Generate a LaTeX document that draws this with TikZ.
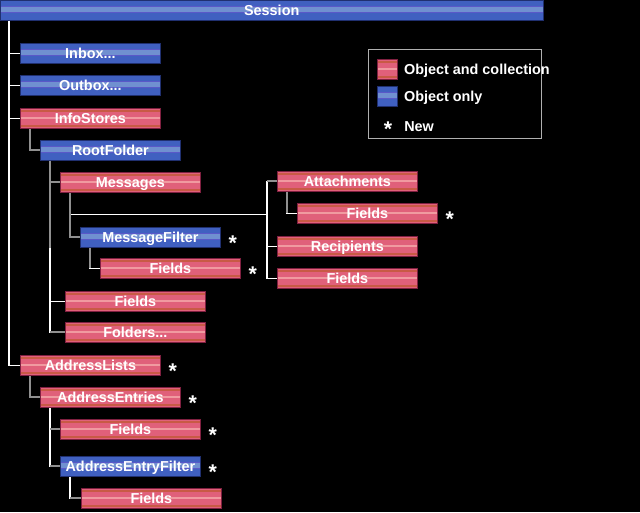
\documentclass[tikz,border=0pt]{standalone}
\usepackage{fontspec}
\setmainfont{Liberation Sans}
\usetikzlibrary{positioning}

\definecolor{collbase}{HTML}{E0607A}
\definecolor{collband}{HTML}{C85A45}
\definecolor{colllight}{HTML}{F09AA0}
\definecolor{collrim}{HTML}{802040}
\definecolor{objbase}{HTML}{4060C0}
\definecolor{objedge}{HTML}{5A58C8}
\definecolor{objlight}{HTML}{7090D0}
\definecolor{objrim}{HTML}{203070}
\definecolor{linkgray}{HTML}{909090}
\definecolor{legendgray}{HTML}{B0B0B0}

\newcommand{\collbands}{%
  \fill[collband] ([yshift=-1.1pt]path picture bounding box.north west) rectangle ([yshift=-2.6pt]path picture bounding box.north east);
  \fill[colllight] ([yshift=-6.8pt]path picture bounding box.north west) rectangle ([yshift=-7.9pt]path picture bounding box.north east);
  \fill[collband] ([yshift=1.1pt]path picture bounding box.south west) rectangle ([yshift=2.6pt]path picture bounding box.south east);}
\newcommand{\objbands}{%
  \fill[objedge] ([yshift=-4.0pt]path picture bounding box.north west) rectangle ([yshift=-9.4pt]path picture bounding box.north east);
  \fill[objlight] ([yshift=-4.9pt]path picture bounding box.north west) rectangle ([yshift=-8.6pt]path picture bounding box.north east);}

\tikzstyle{box} = [minimum width=105pt, minimum height=15pt, inner sep=0pt, anchor=north west, text=white, text height=7.7pt, text depth=0pt, font=\bfseries\fontsize{10.8}{12}\selectfont, line width=0.6pt]
\tikzstyle{coll} = [box, fill=collbase, draw=collrim, path picture={\collbands}]
\tikzstyle{obj} = [box, fill=objbase, draw=objrim, path picture={\objbands}]
\tikzstyle{link} = [draw=white, line width=0.9pt]
\tikzstyle{dimlink} = [draw=linkgray, line width=1.6pt]
\tikzstyle{newmark} = [anchor=north, inner sep=0pt, text=white, font=\bfseries\fontsize{16}{16}\selectfont]
\tikzstyle{legendtext} = [anchor=west, inner sep=0pt, text=white, text height=7.7pt, text depth=0pt, font=\bfseries\fontsize{10.8}{12}\selectfont]

\begin{document}
\begin{tikzpicture}[x=0.75pt, y=-0.75pt]
	\useasboundingbox (0,0) rectangle (640,512);
	\fill[black] (0,0) rectangle (640,512);

	% objects
	\node[obj, minimum width=407pt] (session) at (0,0) {Session};
	\node[obj] (inbox) at (20,43) {Inbox...};
	\node[obj] (outbox) at (20,75) {Outbox...};
	\node[coll] (infostores) at (20,108) {InfoStores};
	\node[obj] (rootfolder) at (40,140) {RootFolder};
	\node[coll] (messages) at (60,172) {Messages};
	\node[obj] (msgfilter) at (80,227) {MessageFilter};
	\node[coll] (mffields) at (100,258) {Fields};
	\node[coll] (rffields) at (65,291) {Fields};
	\node[coll] (folders) at (65,322) {Folders...};
	\node[coll] (attachments) at (277,171) {Attachments};
	\node[coll] (attfields) at (297,203) {Fields};
	\node[coll] (recipients) at (277,236) {Recipients};
	\node[coll] (msgfields) at (277,268) {Fields};
	\node[coll] (addrlists) at (20,355) {AddressLists};
	\node[coll] (addrentries) at (40,387) {AddressEntries};
	\node[coll] (aefields) at (60,419) {Fields};
	\node[obj] (aefilter) at (60,456) {AddressEntryFilter};
	\node[coll] (aeffields) at (81,488) {Fields};

	% new ones
	\node[newmark] (mfnew) at ([xshift=9pt, yshift=1.5pt]msgfilter.east) {*};
	\node[newmark] (mffnew) at ([xshift=9pt, yshift=1.5pt]mffields.east) {*};
	\node[newmark] (attfnew) at ([xshift=9pt, yshift=1.5pt]attfields.east) {*};
	\node[newmark] (alnew) at ([xshift=9pt, yshift=1.5pt]addrlists.east) {*};
	\node[newmark] (aenew) at ([xshift=9pt, yshift=1.5pt]addrentries.east) {*};
	\node[newmark] (aefnew) at ([xshift=9pt, yshift=1.5pt]aefields.east) {*};
	\node[newmark] (aeflnew) at ([xshift=9pt, yshift=1.5pt]aefilter.east) {*};

	% legend
	\node[draw=legendgray, line width=1pt, minimum width=129.75pt, minimum height=66.75pt, inner sep=0pt, anchor=north west] (legend) at (368,49) {};
	\node[coll, minimum width=15pt] (collkey) at (377,59) {};
	\node[obj, minimum width=15pt] (objkey) at (377,86) {};
	\node[legendtext, right=4.5pt of collkey] (colltext) {Object and collection};
	\node[legendtext, right=4.5pt of objkey] (objtext) {Object only};
	\node[newmark] (newkey) at (388,122) {*};
	\node[legendtext] (newtext) at (404,126) {New};

	% tree lines
	\coordinate (strunk) at ([xshift=6.75pt]session.south west);
	\draw[link] (strunk) |- (inbox.west);
	\draw[link] (strunk) |- (outbox.west);
	\draw[link] (strunk) |- (infostores.west);
	\draw[link] (strunk) |- (addrlists.west);

	\draw[dimlink] ([xshift=7.5pt]infostores.south west) |- (rootfolder.west);

	\coordinate (rfstem) at ([xshift=7.5pt]rootfolder.south west);
	\draw[link] (rfstem) |- (folders.west);
	\draw[link] (rfstem) |- (rffields.west);
	\draw[dimlink] (rfstem) |- (messages.west);
	\draw[dimlink] (rfstem) -- (rfstem |- msgfilter.south);
	\draw[dimlink] (rfstem |- folders.west) -- (folders.west);

	\coordinate (msgstem) at ([xshift=7.5pt]messages.south west);
	\coordinate (mbus) at ([xshift=-7.5pt]attachments.west);
	\draw[link] ([yshift=-16.5pt]msgstem) -| (mbus);
	\draw[link] (mbus) |- (recipients.west);
	\draw[link] (mbus) |- (msgfields.west);
	\draw[dimlink] (mbus) -- (attachments.west);
	\draw[dimlink] (msgstem) |- (msgfilter.west);

	\coordinate (attstem) at ([xshift=7.5pt]attachments.south west);
	\draw[link] (attstem) |- (attfields.west);
	\draw[dimlink] (attstem) -- (attstem |- attfields.west);

	\coordinate (mfstem) at ([xshift=7.5pt]msgfilter.south west);
	\draw[link] (mfstem) |- (mffields.west);
	\draw[dimlink] (mfstem) -- (mfstem |- mffields.west);

	\draw[dimlink] ([xshift=7.5pt]addrlists.south west) |- (addrentries.west);

	\coordinate (aestem) at ([xshift=7.5pt]addrentries.south west);
	\draw[link] (aestem) |- (aefilter.west);
	\draw[dimlink] (aestem |- aefields.west) -- (aefields.west);
	\draw[dimlink] (aestem |- aefilter.west) -- (aefilter.west);

	\coordinate (aefstem) at ([xshift=7.5pt]aefilter.south west);
	\draw[link] (aefstem) |- (aeffields.west);
	\draw[dimlink] (aefstem |- aeffields.west) -- (aeffields.west);
\end{tikzpicture}
\end{document}
